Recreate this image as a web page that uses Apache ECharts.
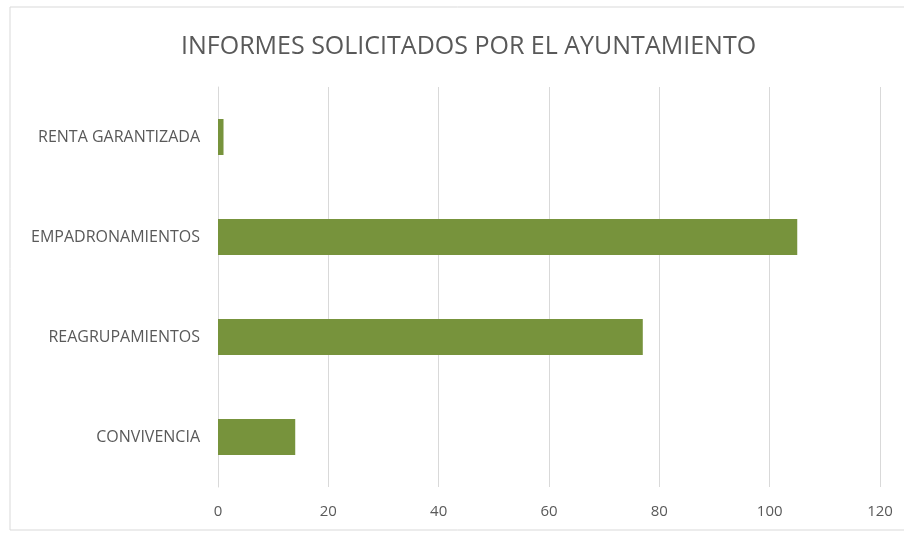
<!DOCTYPE html>
<html><head><meta charset="utf-8">
<script src="https://cdn.jsdelivr.net/npm/echarts@6/dist/echarts.min.js"></script>
<style>html,body{margin:0;padding:0;background:#fff}#c{width:904px;height:534px}</style>
</head><body><div id="c"></div>
<script>
const titleText = 'INFORMES SOLICITADOS POR EL AYUNTAMIENTO';
const categories = ['CONVIVENCIA', 'REAGRUPAMIENTOS', 'EMPADRONAMIENTOS', 'RENTA GARANTIZADA'];
const values = [14, 77, 105, 1];
const xMin = 0, xMax = 120, xStep = 20;

const font = '"Open Sans", sans-serif';
const chart = echarts.init(document.getElementById('c'));
chart.setOption({
  animation: false,
  backgroundColor: '#fff',
  graphic: [{type: 'rect', shape: {x: 10, y: 7, width: 900, height: 523},
    style: {fill: 'none', stroke: '#d9d9d9', lineWidth: 1}, silent: true, z: -1}],
  title: {text: titleText, left: 176, top: 29,
    textStyle: {fontFamily: font, fontSize: 25, fontWeight: 'normal', color: '#595959'}},
  grid: {left: 218, right: 24, top: 87, bottom: 47, containLabel: false},
  xAxis: {type: 'value', min: xMin, max: xMax, interval: xStep,
    axisLine: {show: false}, axisTick: {show: false},
    axisLabel: {color: '#595959', fontFamily: font, fontSize: 15, margin: 17},
    splitLine: {lineStyle: {color: '#d9d9d9', width: 1}}},
  yAxis: {type: 'category', data: categories,
    axisLine: {show: true, lineStyle: {color: '#d9d9d9'}}, axisTick: {show: false},
    axisLabel: {color: '#595959', fontFamily: font, fontSize: 16, margin: 18}},
  series: [{type: 'bar', data: values, barWidth: 36,
    itemStyle: {color: '#77933c'}}]
});
</script></body></html>
